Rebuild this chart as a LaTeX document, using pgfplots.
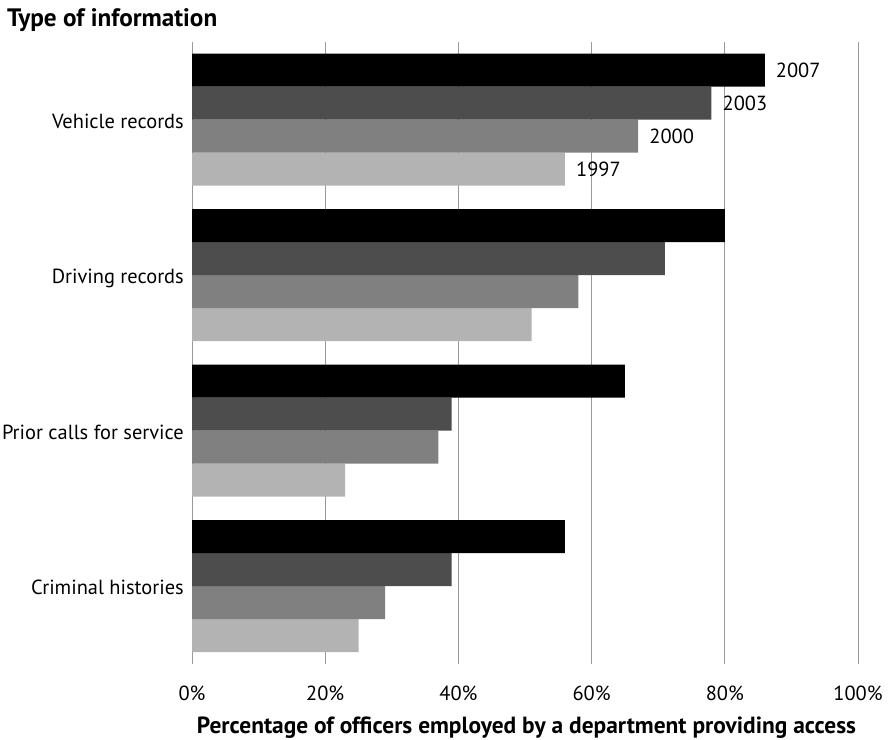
\documentclass[border=0pt]{standalone}
\usepackage{fontspec}
\setmainfont{PT Sans}
\usepackage{pgfplots}
\pgfplotsset{compat=1.18}
\definecolor{c07}{HTML}{000000}
\definecolor{c03}{HTML}{4D4D4D}
\definecolor{c00}{HTML}{808080}
\definecolor{c97}{HTML}{B3B3B3}
\definecolor{gridc}{HTML}{9A9A9A}
\begin{document}
\begin{tikzpicture}[x=1bp,y=1bp]
\path[use as bounding box] (0,0) rectangle (896,740);
\begin{axis}[
  at={(192bp,76bp)}, anchor=south west,
  scale only axis, width=666bp, height=622bp,
  xbar, bar width=33bp,
  xmin=0, xmax=100, ymin=-0.5, ymax=3.5,
  axis line style={draw=none},
  xtick={0,20,...,100},
  xticklabel={\pgfmathprintnumber{\tick}\%},
  /pgf/number format/assume math mode=true,
  xmajorgrids, grid style={gridc, line width=0.9bp},
  major tick length=0pt,
  ytick={0,1,2,3},
  yticklabels={Criminal histories, Prior calls for service, Driving records, Vehicle records},
  ticklabel style={font=\fontsize{20.5}{24}\selectfont},
  xticklabel style={anchor=base, inner sep=0pt, yshift=-37bp},
  yticklabel style={anchor=base east, inner sep=0pt, xshift=-8bp, yshift=-8.5bp},
  point meta=explicit symbolic,
  nodes near coords,
  nodes near coords style={anchor=west, inner sep=0pt, xshift=11bp, font=\fontsize{20.5}{24}\selectfont},
  clip=false,
]
\addplot[fill=c97, draw=none, bar shift=-49.5bp] coordinates {(56,3)[1997] (51,2)[] (23,1)[] (25,0)[]};
\addplot[fill=c00, draw=none, bar shift=-16.5bp] coordinates {(67,3)[2000] (58,2)[] (37,1)[] (29,0)[]};
\addplot[fill=c03, draw=none, bar shift=16.5bp] coordinates {(78,3)[2003] (71,2)[] (39,1)[] (39,0)[]};
\addplot[fill=c07, draw=none, bar shift=49.5bp] coordinates {(86,3)[2007] (80,2)[] (65,1)[] (56,0)[]};
\end{axis}
\node[anchor=base west, inner sep=0] at (7,713) {\resizebox{210bp}{!}{\bfseries Type of information}};
\node[anchor=base, inner sep=0] at (526.5,6) {\resizebox{659bp}{!}{\bfseries Percentage of officers employed by a department providing access}};
\end{tikzpicture}
\end{document}
